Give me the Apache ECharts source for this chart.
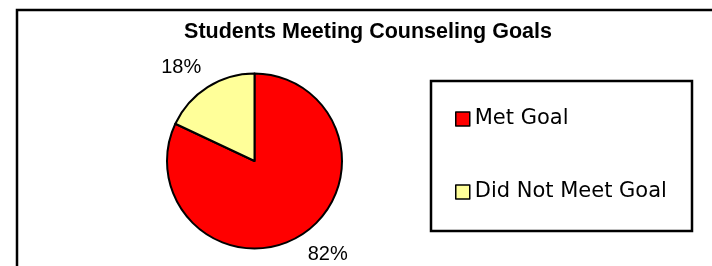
<!DOCTYPE html>
<html>
<head>
<meta charset="utf-8">
<script src="https://cdn.jsdelivr.net/npm/echarts@6.0.0/dist/echarts.min.js"></script>
<style>
  html, body { margin: 0; padding: 0; background: #fff; }
  #echart { width: 712px; height: 266px; }
</style>
</head>
<body>
<div id="echart"></div>
<script>
// data
const categories = ["Met Goal", "Did Not Meet Goal"];
const values = [82, 18];
const colors = ["#ff0000", "#ffff99"];

const pieCenter = [254.5, 161];
const pieRadius = 87.5;

var myChart = echarts.init(document.getElementById("echart"));
let option = {
  animation: false,
  title: {
    text: "Students Meeting Counseling Goals",
    left: 368,
    top: 21,
    padding: 0,
    textAlign: "center",
    textStyle: {
      fontFamily: "Liberation Sans",
      fontWeight: "bold",
      fontSize: 21.5,
      color: "#000",
    },
  },
  // frame + legend box
  graphic: [
    {
      type: "rect",
      z: -1,
      shape: { x: 17, y: 10, width: 740, height: 300 },
      style: { fill: "#fff", stroke: "#000", lineWidth: 2.5 },
    },
    {
      type: "rect",
      z: 0,
      shape: { x: 431, y: 81, width: 261, height: 150 },
      style: { fill: "#fff", stroke: "#000", lineWidth: 2.5 },
    },
  ],
  legend: {
    orient: "vertical",
    left: 455,
    top: 108.5,
    padding: 0,
    z: 5,
    itemWidth: 14,
    itemHeight: 14,
    itemGap: 52,
    itemTextGap: 4,
    icon: "rect",
    itemStyle: { borderColor: "#000", borderWidth: 1.5 },
    textStyle: {
      fontFamily: "DejaVu Sans",
      fontSize: 21,
      lineHeight: 20,
      color: "#000",
    },
    data: categories,
  },
  series: [
    {
      type: "pie",
      center: pieCenter,
      radius: pieRadius,
      startAngle: 90,
      clockwise: true,
      avoidLabelOverlap: false,
      itemStyle: { borderColor: "#000", borderWidth: 2 },
      emphasis: { disabled: true },
      label: {
        show: true,
        position: "outside",
        formatter: "{d}%",
        fontFamily: "Liberation Sans",
        fontSize: 20,
        color: "#000",
      },
      labelLine: {
        show: true,
        length: 31.5,
        length2: 0,
        lineStyle: { opacity: 0 },
      },
      labelLayout: function (p) {
        // centre label near the radial point, turned a little like excel does
        if (!p.labelLinePoints) return {};
        let pt = p.labelLinePoints[1];
        let dx = pt[0] - pieCenter[0];
        let dy = pt[1] - pieCenter[1];
        let a = Math.atan2(dy, dx) - (5.6 * Math.PI) / 180;
        let d = Math.sqrt(dx * dx + dy * dy);
        return {
          x: pieCenter[0] + d * Math.cos(a),
          y: pieCenter[1] + d * Math.sin(a),
          align: "center",
          verticalAlign: "middle",
        };
      },
      data: categories.map((name, i) => ({
        name: name,
        value: values[i],
        itemStyle: { color: colors[i] },
      })),
    },
  ],
};
myChart.setOption(option);
</script>
</body>
</html>
